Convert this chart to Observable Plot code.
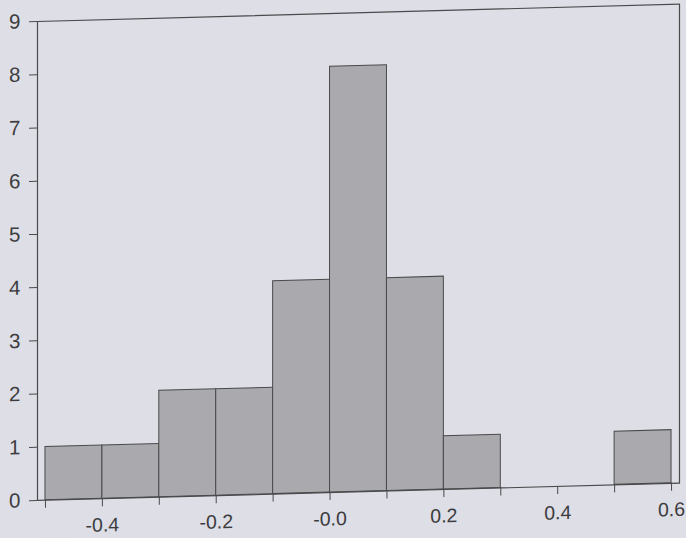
<!DOCTYPE html>
<html><head><meta charset="utf-8">
<script src="https://cdn.jsdelivr.net/npm/d3@7"></script>
<script src="https://cdn.jsdelivr.net/npm/@observablehq/plot@0.6"></script>
<style>
html,body{margin:0;padding:0;background:#dddee6;overflow:hidden;}
#chart svg{display:block;transform:skewY(-1.55deg);transform-origin:37px 0px;}
</style></head><body><div id="chart"></div>
<script>
const binStart = [-0.5, -0.4, -0.3, -0.2, -0.1, 0.0, 0.1, 0.2, 0.3, 0.4, 0.5];
const binEnd   = [-0.4, -0.3, -0.2, -0.1, 0.0, 0.1, 0.2, 0.3, 0.4, 0.5, 0.6];
const counts   = [1, 1, 2, 2, 4, 8, 4, 1, 0, 0, 1];
const yTicks = [0, 1, 2, 3, 4, 5, 6, 7, 8, 9];
const xMinorTicks = [-0.5, -0.4, -0.3, -0.2, -0.1, 0.0, 0.1, 0.2, 0.3, 0.4, 0.5, 0.6];
const xTickValues = [-0.4, -0.2, 0.0, 0.2, 0.4, 0.6];
const xTickLabels = ["-0.4", "-0.2", "-0.0", "0.2", "0.4", "0.6"];

const bins = binStart.map((s, i) => ({x1: s, x2: binEnd[i], y: counts[i]})).filter(d => d.y > 0);
const labelOf = v => xTickLabels[xTickValues.findIndex(t => Math.abs(t - v) < 1e-9)];

const ink = "#4a4a4c";
const chart = Plot.plot({
  width: 686,
  height: 538,
  marginLeft: 37,
  marginRight: 7,
  marginTop: 21,
  marginBottom: 38,
  style: {background: "#dddee6", fontFamily: "'Liberation Sans', Arial, sans-serif", fontSize: "20px", color: "#3c3c3e"},
  x: {domain: [-0.514, 0.614]},
  y: {domain: [0, 9]},
  marks: [
    Plot.rectY(bins, {x1: "x1", x2: "x2", y: "y", fill: "#aaaaae", stroke: ink, strokeWidth: 1}),
    Plot.frame({stroke: ink, strokeWidth: 1.2}),
    Plot.axisY({ticks: yTicks, tickSize: 8, tickPadding: 9, tickFormat: d => String(d), stroke: ink, fontSize: 20.5, label: null}),
    Plot.axisX({ticks: xMinorTicks, tickSize: 8, tickFormat: () => "", stroke: ink, label: null}),
    Plot.axisX({ticks: xTickValues, tickSize: 0, tickPadding: 19, tickFormat: labelOf, fontSize: 19.5, label: null})
  ]
});
document.getElementById("chart").appendChild(chart);
</script></body></html>
